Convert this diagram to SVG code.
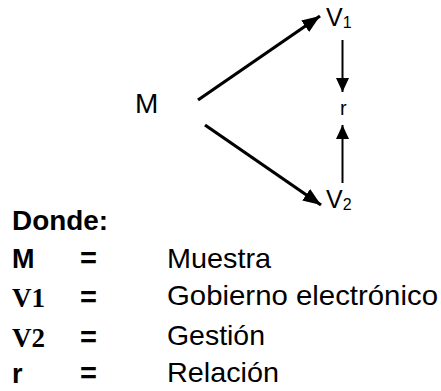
<svg xmlns="http://www.w3.org/2000/svg" width="441" height="391" viewBox="0 0 441 391">
<style>
.s{font-family:"Liberation Sans",Arial,sans-serif;fill:#000}
.b{font-family:"Liberation Sans",Arial,sans-serif;font-weight:bold;fill:#000}
.sb{font-family:"Liberation Serif","Times New Roman",serif;font-weight:bold;fill:#000}
.big{stroke:#000;stroke-width:3.2;fill:none}
.thin{stroke:#000;stroke-width:2;fill:none}
</style>
<defs>
<marker id="hb" markerUnits="userSpaceOnUse" markerWidth="20" markerHeight="16" refX="18" refY="7" orient="auto">
<path d="M0,0 L18,7 L0,14 Z" fill="#000"/>
</marker>
<marker id="hs" markerUnits="userSpaceOnUse" markerWidth="16" markerHeight="14" refX="14" refY="6.5" orient="auto">
<path d="M0,0 L14,6.5 L0,13 Z" fill="#000"/>
</marker>
</defs>
<g id="connectors">
<line class="big" x1="198" y1="100" x2="320" y2="16" marker-end="url(#hb)"/>
<line class="big" x1="205" y1="125" x2="321" y2="205" marker-end="url(#hb)"/>
<line class="thin" x1="342.5" y1="40" x2="342.5" y2="92" marker-end="url(#hs)"/>
<line class="thin" x1="342.5" y1="183" x2="342.5" y2="125" marker-end="url(#hs)"/>
</g>
<g id="node-M"><text class="s" x="135" y="113" font-size="28">M</text></g>
<g id="node-V1"><text class="s" x="326" y="26" font-size="25">V<tspan font-size="16" dy="2">1</tspan></text></g>
<g id="node-r"><text class="s" x="340" y="115" font-size="20">r</text></g>
<g id="node-V2"><text class="s" x="326" y="208" font-size="25">V<tspan font-size="16" dy="2">2</tspan></text></g>
<g id="legend">
<text class="b" x="12" y="230" font-size="27" textLength="96" lengthAdjust="spacingAndGlyphs">Donde:</text>
<text class="b" x="12" y="268" font-size="27">M</text>
<text class="sb" x="12" y="307" font-size="27">V1</text>
<text class="sb" x="12" y="347" font-size="27">V2</text>
<text class="b" x="12" y="383" font-size="27">r</text>
<text class="b" x="80" y="268" font-size="29">=</text>
<text class="b" x="80" y="307" font-size="29">=</text>
<text class="b" x="80" y="347" font-size="29">=</text>
<text class="b" x="80" y="383" font-size="29">=</text>
<text class="s" x="167" y="268" font-size="28" textLength="104" lengthAdjust="spacingAndGlyphs">Muestra</text>
<text class="s" x="167" y="305" font-size="28" textLength="271" lengthAdjust="spacingAndGlyphs">Gobierno electrónico</text>
<text class="s" x="167" y="345" font-size="28" textLength="98" lengthAdjust="spacingAndGlyphs">Gestión</text>
<text class="s" x="167" y="382" font-size="28" textLength="112" lengthAdjust="spacingAndGlyphs">Relación</text>
</g>
</svg>
